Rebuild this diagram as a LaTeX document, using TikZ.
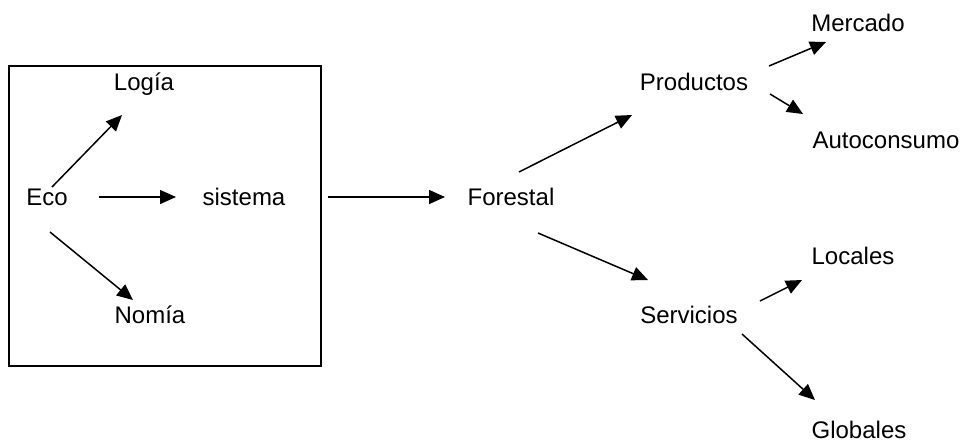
\documentclass[tikz,border=0pt]{standalone}
\usepackage{fontspec}
\setmainfont{Liberation Sans}
\usepackage{tikz}
\usetikzlibrary{arrows.meta}
\tikzset{
  termino/.style={
    inner sep=0pt, text height=8.6pt, text depth=0pt,
    font=\fontsize{12}{14}\selectfont
  },
  flecha/.style={-{Triangle[length=8pt,width=7pt]}, line width=0.75pt, color=black},
  caja/.style={line width=0.65pt, draw=black},
}
\begin{document}
\begin{tikzpicture}[x=0.5pt, y=-0.5pt]
  \useasboundingbox (0,0) rectangle (976,441);
  \draw[caja] (9,66) rectangle (321,366);
  % dentro del recuadro
  \node[termino] (eco) at (47,197) {Eco};
  \node[termino] (logia) at (144,82) {Logía};
  \node[termino] (sistema) at (244,197) {sistema};
  \node[termino] (nomia) at (150,315) {Nomía};
  % lado derecho
  \node[termino] (forestal) at (511,197) {Forestal};
  \node[termino] (productos) at (694,82) {Productos};
  \node[termino] (mercado) at (858,23) {Mercado};
  \node[termino] (autoconsumo) at (886,140) {Autoconsumo};
  \node[termino] (servicios) at (689,315) {Servicios};
  \node[termino] (locales) at (853,256) {Locales};
  \node[termino] (globales) at (859,430) {Globales};
  \draw[flecha] ([shift={(5,-10)}]eco.center) -- ([shift={(-22,33)}]logia.center);
  \draw[flecha] ([shift={(52,0)}]eco.center) -- ([shift={(-68,0)}]sistema.center);
  \draw[flecha] ([shift={(3,35)}]eco.center) -- ([shift={(-17,-15)}]nomia.center);
  \draw[flecha] ([shift={(84,0)}]sistema.center) -- ([shift={(-66,0)}]forestal.center);
  \draw[flecha] ([shift={(8,-25)}]forestal.center) -- ([shift={(-62,33)}]productos.center);
  \draw[flecha] ([shift={(27,36)}]forestal.center) -- ([shift={(-41,-35)}]servicios.center);
  \draw[flecha] ([shift={(75,-16)}]productos.center) -- ([shift={(-32,19)}]mercado.center);
  \draw[flecha] ([shift={(76,12)}]productos.center) -- ([shift={(-83,-26)}]autoconsumo.center);
  \draw[flecha] ([shift={(71,-14)}]servicios.center) -- ([shift={(-51,24)}]locales.center);
  \draw[flecha] ([shift={(53,19)}]servicios.center) -- ([shift={(-44,-30)}]globales.center);
\end{tikzpicture}
\end{document}
